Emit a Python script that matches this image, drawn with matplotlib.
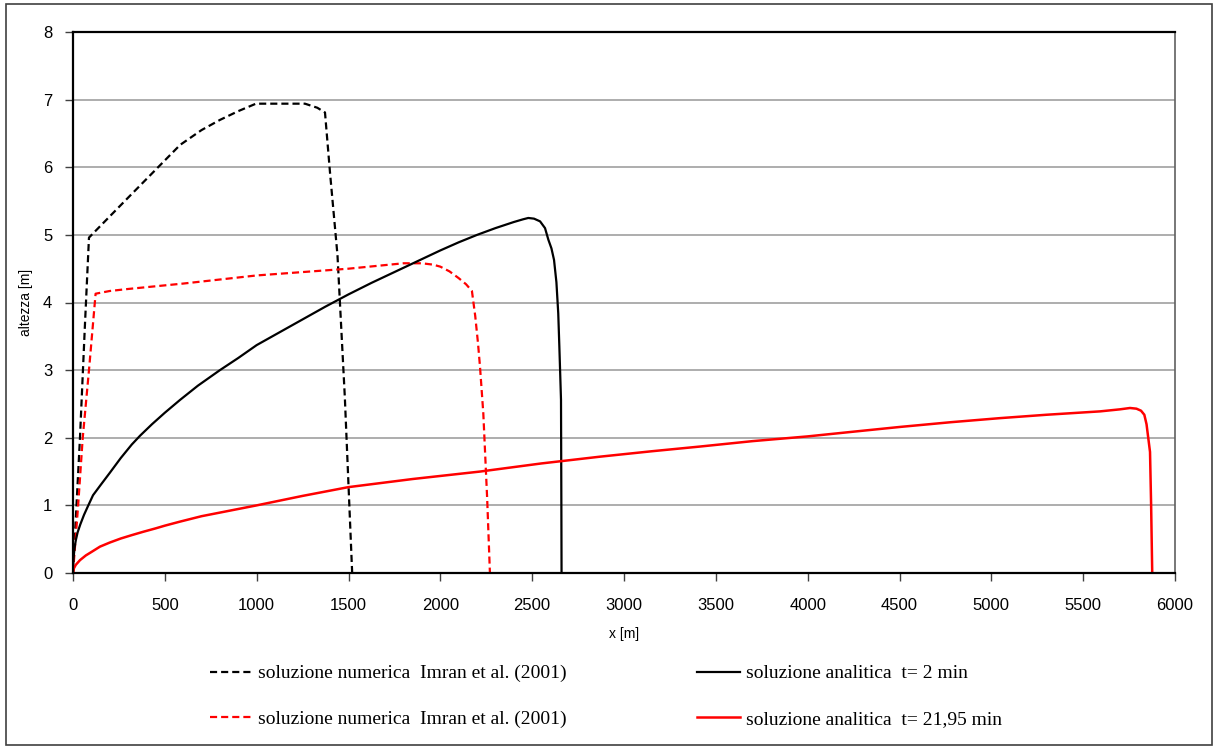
import matplotlib.pyplot as plt
from matplotlib.patches import Rectangle

# numerical solution (Imran et al. 2001), t = 2 min
num1_x = [0, 38, 65, 87, 300, 583, 700, 800, 900, 996, 1100, 1263, 1330, 1372, 1400, 1440, 1480, 1520]
num1_y = [0, 2.0, 3.67, 4.96, 5.55, 6.33, 6.55, 6.7, 6.83, 6.94, 6.94, 6.94, 6.88, 6.81, 5.9, 4.7, 2.6, 0]

# numerical solution (Imran et al. 2001), t = 21,95 min
num2_x = [0, 28, 53, 87, 123, 200, 300, 450, 600, 800, 1000, 1250, 1500, 1650, 1800, 1900, 1960, 2000,
          2050, 2100, 2140, 2172, 2190, 2205, 2216, 2234, 2255, 2270]
num2_y = [0, 1.0, 2.0, 3.0, 4.13, 4.17, 4.2, 4.24, 4.28, 4.34, 4.4, 4.45, 4.5, 4.54, 4.58, 4.58, 4.56, 4.53,
          4.46, 4.36, 4.27, 4.17, 3.8, 3.4, 3.05, 2.36, 1.1, 0]

# analytical solution t = 2 min
an1_x = [0, 3, 8, 15, 25, 40, 60, 80, 109, 150, 200, 260, 320, 365, 430, 500, 583, 680, 800, 900, 1000,
         1125, 1250, 1375, 1500, 1625, 1750, 1875, 2000, 2100, 2200, 2300, 2400, 2450, 2479, 2510, 2543,
         2570, 2588, 2605, 2619, 2632, 2642, 2648, 2652, 2657, 2659, 2660]
an1_y = [0, 0.22, 0.36, 0.48, 0.6, 0.72, 0.86, 0.98, 1.15, 1.3, 1.48, 1.7, 1.9, 2.03, 2.2, 2.37, 2.56, 2.77,
         3.0, 3.18, 3.37, 3.56, 3.75, 3.94, 4.12, 4.29, 4.45, 4.61, 4.77, 4.89, 5.0, 5.1, 5.19, 5.23, 5.25,
         5.24, 5.2, 5.1, 4.93, 4.8, 4.63, 4.3, 3.84, 3.35, 3.0, 2.56, 1.0, 0]

# analytical solution t = 21,95 min
an2_x = [0, 5, 15, 38, 70, 100, 147, 200, 260, 320, 383, 450, 500, 583, 700, 850, 1000, 1250, 1500, 1850,
         2216, 2550, 2869, 3150, 3414, 3700, 4000, 4250, 4503, 4780, 5047, 5300, 5592, 5700, 5755, 5790,
         5815, 5833, 5845, 5864, 5870, 5876]
an2_y = [0, 0.07, 0.12, 0.19, 0.26, 0.31, 0.39, 0.45, 0.51, 0.56, 0.61, 0.66, 0.7, 0.76, 0.84, 0.92, 1.0,
         1.14, 1.27, 1.39, 1.5, 1.62, 1.72, 1.8, 1.87, 1.95, 2.02, 2.09, 2.16, 2.23, 2.29, 2.34, 2.39, 2.42,
         2.44, 2.43, 2.4, 2.34, 2.2, 1.79, 1.0, 0]

labels = ['soluzione numerica  Imran et al. (2001)', 'soluzione numerica  Imran et al. (2001)',
          'soluzione analitica  t= 2 min', 'soluzione analitica  t= 21,95 min']

plt.rcParams['font.family'] = ['Liberation Sans', 'DejaVu Sans']

fig = plt.figure(figsize=(12.16, 7.48), dpi=100)
ax = fig.add_axes([73 / 1216, 1 - 573 / 748, 1102 / 1216, 541 / 748])

l1, = ax.plot(num1_x, num1_y, color='black', lw=1.6, dashes=(3.2, 1.8))
l2, = ax.plot(num2_x, num2_y, color='#ff0000', lw=1.6, dashes=(3.2, 1.8))
l3, = ax.plot(an1_x, an1_y, color='black', lw=1.6)
l4, = ax.plot(an2_x, an2_y, color='#ff0000', lw=1.8)

ax.set_xlim(0, 6000)
ax.set_ylim(0, 8)
ax.set_xticks(range(0, 6001, 500))
ax.set_yticks(range(0, 9))
ax.yaxis.grid(True, color='#a0a0a0', lw=1.2)
ax.set_axisbelow(True)
ax.tick_params(axis='both', labelsize=12, direction='out', length=6, width=1, color='#404040')
ax.tick_params(axis='x', pad=12)
ax.tick_params(axis='y', pad=9)
for s in ['left', 'bottom', 'top']:
    ax.spines[s].set_color('black')
    ax.spines[s].set_linewidth(1.6)
ax.spines['right'].set_color('#606060')
ax.spines['right'].set_linewidth(1.2)

ax.set_xlabel('x [m]', fontsize=10, labelpad=10)
ax.set_ylabel('altezza [m]', fontsize=10, labelpad=7)

fig.legend([l1, l2, l3, l4], labels, ncol=2, loc='upper left', bbox_to_anchor=(200 / 1216, 1 - 655 / 748),
           frameon=False, prop={'family': 'Liberation Serif', 'size': 14}, handlelength=2.2, borderpad=0,
           handletextpad=0.3, columnspacing=6.7, labelspacing=1.45)

# outer border of the figure
fig.patches.append(Rectangle((6 / 1216, 3 / 748), 1206 / 1216, 741 / 748, transform=fig.transFigure,
                             fill=False, edgecolor='#404040', lw=1.2))

fig.savefig('out.png', dpi=100)
